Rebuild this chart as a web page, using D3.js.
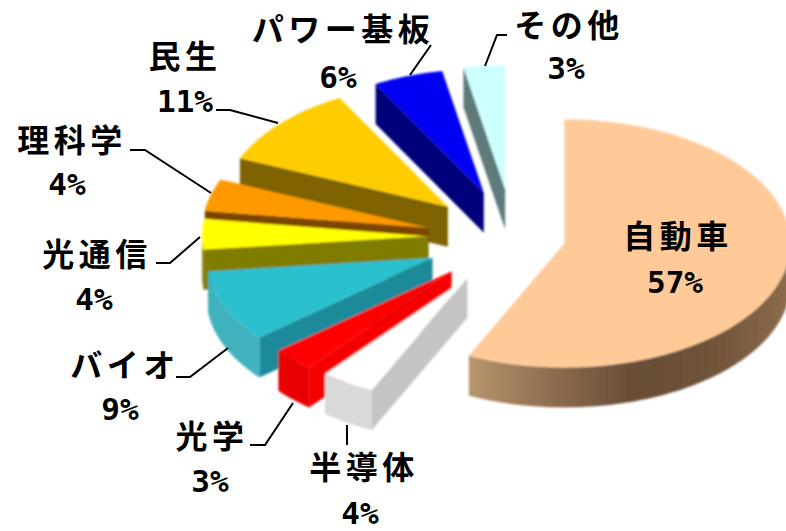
<!DOCTYPE html>
<html><head><meta charset="utf-8">
<script src="https://cdn.jsdelivr.net/npm/d3@7"></script>
<style>html,body{margin:0;padding:0;background:#fff;overflow:hidden}svg{display:block}</style>
</head><body><svg id="c" width="786" height="531"></svg>
<script>
const categories = ["自動車","半導体","光学","バイオ","光通信","理科学","民生","パワー基板","その他"];
const shares = [56.95,3.9,3.05,9.35,4.0,4.15,10.65,5.0,2.95];
const percentLabels = ["57%","4%","3%","9%","4%","4%","11%","6%","3%"];
const topColors = ["#FFCA98","#FFFFFF","#FF0000","#2CC0CE","#FFFF00","#FF9900","#FFCC00","#0000F5","#CCFFFF"];
const rimColors = ["url(#autoRim)","#D9D9D9","#E80000","#3FB2BE","#808000","#7C4400","#7E6400","#000080","#667F7F"];
const cutColors = ["#7A5C40","#C4C4C4","#F40000","#1E8A9A","#807C00","#7C4400","#7E6400","#00007A","#5F7A7A"];
/* per-slice pull adjustment on top of the common explosion */
const pullX = [0,7,3,-1,0,-2,2,10,14.5];
const pullY = [-4,0,0,2,0,4,2,1,0];
const labelX = [678,364,212,125,97,72,185,343,569];
const labelY = [234,465,434,363,252,138,54,27,23];
const pctX = [675,360,210,120,94,67,185,338,566];
const pctY = [282,513,481,409,299,184,101,77,68];
const leaders = [null,
  [[347,425],[347,445]],
  [[293,403],[265,445],[250,445]],
  [[228,348],[190,377],[176,377]],
  [[200,237],[170,263],[156,263]],
  [[211,193],[145,150],[130,150]],
  [[278,123],[230,110],[216,110]],
  [[410,75],[431,45]],
  [[485,66],[497,35],[507,35]]];

const RX=226, RY=124, DEPTH=40, CX=497, CY=237, EX=69, EY=48;
const svg=d3.select("#c");
const defs=svg.append("defs");
defs.append("filter").attr("id","soft").append("feGaussianBlur").attr("stdDeviation",0.8);
const g0=defs.append("linearGradient").attr("id","autoRim").attr("gradientUnits","userSpaceOnUse")
  .attr("x1",470).attr("x2",786).attr("y1",0).attr("y2",0);
[[0,"#B8956E"],[0.25,"#8E6E50"],[0.5,"#6A4E38"],[0.75,"#6E5239"],[1,"#8A6A4A"]].forEach(s=>g0.append("stop").attr("offset",s[0]).attr("stop-color",s[1]));

const arcs=d3.pie().sort(null).value(d=>d)(shares);
const line=d3.line();
const root=svg.append("g").attr("filter","url(#soft)");

d3.range(arcs.length).reverse().forEach(i=>{
  const a=arcs[i], mid=(a.startAngle+a.endAngle)/2;
  const ax=CX+EX*Math.sin(mid)+pullX[i], ay=CY-EY*Math.cos(mid)+pullY[i];
  const pt=t=>[ax+RX*Math.sin(t), ay-RY*Math.cos(t)];
  const down=p=>[p[0],p[1]+DEPTH];
  const sweep=(t0,t1)=>{const n=Math.max(2,Math.ceil((t1-t0)/0.02));return d3.range(n+1).map(k=>pt(t0+(t1-t0)*k/n));};
  const g=root.append("g");
  const apex=[ax,ay];
  if(Math.sin(a.startAngle)<-1e-6){const p=pt(a.startAngle);
    g.append("path").attr("d",line([apex,p,down(p),down(apex)])+"Z").attr("fill",cutColors[i]);}
  if(Math.sin(a.endAngle)>1e-6){const p=pt(a.endAngle);
    g.append("path").attr("d",line([apex,p,down(p),down(apex)])+"Z").attr("fill",cutColors[i]);}
  const t0=Math.max(a.startAngle,Math.PI/2), t1=Math.min(a.endAngle,Math.PI*1.5);
  if(t1>t0){const s=sweep(t0,t1);
    g.append("path").attr("d",line(s.concat(s.map(down).reverse()))+"Z").attr("fill",rimColors[i]);}
  g.append("path").attr("d",line([apex].concat(sweep(a.startAngle,a.endAngle)))+"Z").attr("fill",topColors[i]);
});

const lg=svg.append("g");
leaders.forEach(l=>{if(l)lg.append("path").attr("d",line(l)).attr("fill","none").attr("stroke","#000").attr("stroke-width",2);});

const t=svg.append("g").attr("fill","#000").attr("text-anchor","middle").attr("dominant-baseline","central");
categories.forEach((c,i)=>{
  t.append("text").attr("x",labelX[i]).attr("y",labelY[i])
   .attr("font-family","'Noto Sans CJK JP'").attr("font-weight",700).attr("font-size",32)
   .attr("letter-spacing",4.5).text(c);
  t.append("text").attr("x",pctX[i]).attr("y",pctY[i])
   .attr("font-family","'DejaVu Sans Mono'").attr("font-weight",700).attr("font-size",31).text(percentLabels[i]);
});
</script></body></html>
